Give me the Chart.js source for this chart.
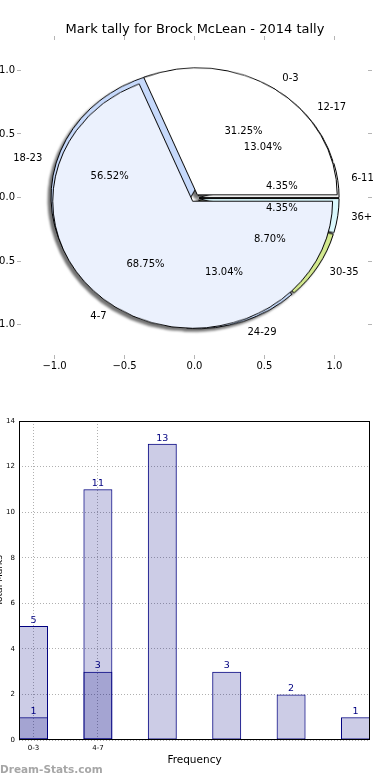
<html>
<head>
<title>Mark tally for Brock McLean - 2014 tally</title>
<script src="https://cdn.jsdelivr.net/npm/chart.js"></script>
<style>
  body { margin: 0; background: #fff; font-family: "DejaVu Sans", sans-serif; }
  #page { position: relative; width: 390px; height: 780px; overflow: hidden; }
  #pieAxes { position: absolute; left: 0; top: 0; z-index: 3; }
  #pies { position: absolute; width: 320px; height: 320px; z-index: 1;
          filter: drop-shadow(-3px 3px 1px rgba(0,0,0,0.55)); }
  #pies canvas { position: absolute; left: 0; top: 0; }
  #barChart { position: absolute; left: 0; top: 390px; }
  .credit { position: absolute; left: 0; top: 763px; font: bold 10.5px "DejaVu Sans", sans-serif; color: #a6a6a6; }
</style>
</head>
<body>
<div id="page">
  <div id="pies">
    <canvas id="pieBack" width="320" height="320"></canvas>
    <canvas id="pieFront" width="320" height="320"></canvas>
  </div>
  <canvas id="pieAxes" width="390" height="390"></canvas>
  <canvas id="barChart" width="390" height="390"></canvas>
  <div class="credit">Dream-Stats.com</div>
</div>

<script>
  // ---- data ----
  const chartTitle = 'Mark tally for Brock McLean - 2014 tally';

  // pie 1 (drawn on top)
  const pie1Labels = ['0-3', '4-7'];
  const pie1Values = [5, 11];
  const pie1Colors = ['#ffffff', '#ebf1fd'];

  // pie 2 (drawn underneath)
  const pie2Labels = ['6-11', '12-17', '18-23', '24-29', '30-35', '36+'];
  const pie2Values = [1, 3, 13, 3, 2, 1];
  const pie2Colors = ['#ffffff', '#ffffff', '#c6d9fb', '#c4d8f8', '#d3e98f', '#daf8fc'];

  const pieTicks = [-1.0, -0.5, 0.0, 0.5, 1.0];

  // bar chart
  const barTickLabels = ['0-3', '4-7'];
  const barSeriesA = [5, 11];
  const barSeriesB = [1, 3, 13, 3, 2, 1];
  const barYTicks = [0, 2, 4, 6, 8, 10, 12, 14];

  const FONT = '"DejaVu Sans", sans-serif';
  Chart.defaults.font.family = FONT;
  Chart.defaults.color = '#000';

  // pie geometry (matplotlib style)
  const axisLim = 1.24;
  const explode = 0.03;
  const labelDist = 1.1;
  const pctDist = 0.6;

  function fmtTick(v) {
    const s = Math.abs(v).toFixed(1);
    return v < 0 ? '\u2212' + s : s;
  }
  function fixTicks(axis) {
    axis.ticks = pieTicks.map(v => ({ value: v }));
  }

  const tickGrid = { drawOnChartArea: false, tickLength: 4, color: '#b5b5b5' };

  // labels + percentages, placed through the axes scales
  const pieLabelPlugin = {
    id: 'pieLabels',
    afterDraw(chart) {
      const { ctx } = chart;
      const x = chart.scales.x, y = chart.scales.y;
      ctx.save();
      ctx.font = '10px ' + FONT;
      ctx.fillStyle = '#000';
      ctx.textBaseline = 'middle';
      [[pie2Labels, pie2Values], [pie1Labels, pie1Values]].forEach(([labels, values]) => {
        const total = values.reduce((a, b) => a + b, 0);
        let acc = 0;
        values.forEach((v, i) => {
          const mid = (acc + v / 2) / total * 2 * Math.PI;
          acc += v;
          const cx = Math.cos(mid), cy = Math.sin(mid);
          const lr = labelDist + explode, pr = pctDist + explode;
          ctx.textAlign = cx > 0 ? 'left' : 'right';
          ctx.fillText(labels[i], x.getPixelForValue(lr * cx), y.getPixelForValue(lr * cy));
          ctx.textAlign = 'center';
          ctx.fillText((100 * v / total).toFixed(2) + '%', x.getPixelForValue(pr * cx), y.getPixelForValue(pr * cy));
        });
      });
      ctx.restore();
    }
  };

  const axesChart = new Chart(document.getElementById('pieAxes'), {
    type: 'scatter',
    data: { datasets: [] },
    options: {
      responsive: false,
      animation: false,
      events: [],
      layout: { padding: 0 },
      plugins: {
        legend: { display: false },
        tooltip: { enabled: false },
        title: {
          display: true, text: chartTitle, color: '#000',
          font: { size: 13, weight: 'normal' },
          padding: { top: 22, bottom: 0 }
        }
      },
      scales: {
        x: {
          type: 'linear', position: 'bottom', min: -axisLim, max: axisLim,
          afterBuildTicks: fixTicks, afterFit: s => { s.height = 35; },
          border: { display: false }, grid: tickGrid,
          ticks: { padding: 1, font: { size: 10 }, callback: fmtTick, maxRotation: 0, autoSkip: false }
        },
        x2: {
          type: 'linear', position: 'top', min: -axisLim, max: axisLim,
          afterBuildTicks: fixTicks, afterFit: s => { s.height = 2.4; },
          border: { display: false }, grid: tickGrid, ticks: { display: false }
        },
        y: {
          type: 'linear', position: 'left', min: -axisLim, max: axisLim,
          afterBuildTicks: fixTicks, afterFit: s => { s.width = 21; },
          border: { display: false }, grid: tickGrid,
          ticks: { padding: 2, font: { size: 10 }, callback: fmtTick, autoSkip: false }
        },
        y2: {
          type: 'linear', position: 'right', min: -axisLim, max: axisLim,
          afterBuildTicks: fixTicks, afterFit: s => { s.width = 22; },
          border: { display: false }, grid: tickGrid, ticks: { display: false }
        }
      }
    },
    plugins: [pieLabelPlugin]
  });

  // place the pie canvases on the axes (0,0) with 1 unit radius
  const sx = axesChart.scales.x, sy = axesChart.scales.y;
  const cx0 = sx.getPixelForValue(0), cy0 = sy.getPixelForValue(0);
  const rx = sx.getPixelForValue(1) - cx0;
  const ry = cy0 - sy.getPixelForValue(1);
  const pies = document.getElementById('pies');
  pies.style.left = (cx0 - 160) + 'px';
  pies.style.top = (cy0 - 160) + 'px';
  pies.style.transform = 'scaleY(' + (ry / rx) + ')';

  // push each wedge out along its mid angle (matplotlib "explode") without growing it
  const explodePlugin = {
    id: 'explode',
    afterDatasetUpdate(chart, args) {
      const d = explode * rx;
      args.meta.data.forEach(arc => {
        const mid = (arc.startAngle + arc.endAngle) / 2;
        arc.x += Math.cos(mid) * d;
        arc.y += Math.sin(mid) * d;
      });
    }
  };

  // matplotlib draws counter-clockwise from 3 o'clock; Chart.js clockwise -> reverse
  function makePie(id, values, colors) {
    return new Chart(document.getElementById(id), {
      type: 'pie',
      data: {
        labels: values.map((v, i) => i).reverse(),
        datasets: [{
          data: values.slice().reverse(),
          backgroundColor: colors.slice().reverse(),
          borderColor: '#000',
          borderWidth: 1,
          radius: rx
        }]
      },
      options: {
        responsive: false,
        animation: false,
        events: [],
        rotation: 90,
        layout: { padding: 0 },
        plugins: { legend: { display: false }, tooltip: { enabled: false } }
      },
      plugins: [explodePlugin]
    });
  }
  makePie('pieBack', pie2Values, pie2Colors);
  makePie('pieFront', pie1Values, pie1Colors);

  // ---- bar chart ----
  const barW = 0.45;
  const navy = '#000080';
  const barFill = 'rgba(0,0,128,0.2)';

  const valueLabels = {
    id: 'valueLabels',
    afterDatasetsDraw(chart) {
      const { ctx, chartArea: a } = chart;
      ctx.save();
      ctx.strokeStyle = '#000';
      ctx.lineWidth = 1;
      ctx.strokeRect(a.left + 0.5, a.top + 0.5, a.right - a.left - 1, a.bottom - a.top - 1);
      ctx.font = '9.5px ' + FONT;
      ctx.fillStyle = navy;
      ctx.textAlign = 'center';
      ctx.textBaseline = 'bottom';
      chart.data.datasets.forEach((ds, di) => {
        chart.getDatasetMeta(di).data.forEach((el, i) => {
          ctx.fillText(String(ds.data[i].y), el.x, el.y - 1);
        });
      });
      ctx.restore();
    }
  };

  function barData(values) {
    return values.map((v, i) => ({ x: i + barW / 2, y: v }));
  }
  const barStyle = {
    backgroundColor: barFill, borderColor: navy, borderWidth: 1, borderSkipped: false,
    grouped: false, barPercentage: barW, categoryPercentage: 1
  };

  new Chart(document.getElementById('barChart'), {
    type: 'bar',
    data: {
      datasets: [
        Object.assign({ label: 'A', data: barData(barSeriesA) }, barStyle),
        Object.assign({ label: 'B', data: barData(barSeriesB) }, barStyle)
      ]
    },
    options: {
      responsive: false,
      animation: false,
      events: [],
      layout: { padding: { top: 31, right: 20, left: -6, bottom: 0 } },
      plugins: { legend: { display: false }, tooltip: { enabled: false } },
      scales: {
        x: {
          type: 'linear', offset: false, min: 0, max: barSeriesB.length - 1 + barW,
          afterBuildTicks: axis => { axis.ticks = barTickLabels.map((c, i) => ({ value: i + barW / 2 })); },
          afterFit: s => { s.height = 40; },
          border: { display: false, dash: [1, 2] },
          grid: { offset: false, drawTicks: false, color: '#b0b0b0' },
          ticks: { padding: 4, font: { size: 7 }, maxRotation: 0, autoSkip: false,
                   callback: (v, i) => barTickLabels[i] },
          title: { display: true, text: 'Frequency', font: { size: 10.5 }, padding: { top: 0, bottom: 13 } }
        },
        y: {
          min: 0, max: 14,
          afterBuildTicks: axis => { axis.ticks = barYTicks.map(v => ({ value: v })); },
          afterFit: s => { s.width = 25; },
          border: { display: false, dash: [1, 2] },
          grid: { drawTicks: false, color: '#b0b0b0' },
          ticks: { padding: 4, font: { size: 7 } },
          title: { display: true, text: 'Total Marks', font: { size: 9 }, padding: 0 }
        }
      }
    },
    plugins: [valueLabels]
  });
</script>
</body>
</html>
